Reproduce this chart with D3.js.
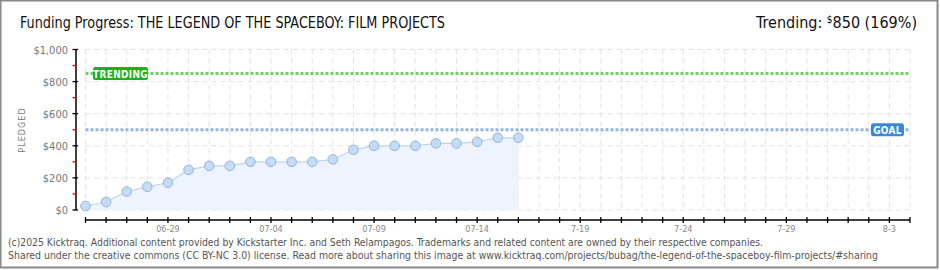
<!DOCTYPE html>
<html>
<head>
<meta charset="utf-8">
<script src="https://d3js.org/d3.v7.min.js"></script>
<style>
  body { margin: 0; background: #fff; }
  svg text { font-family: "DejaVu Sans Condensed", "DejaVu Sans", sans-serif; }
  .grid line { stroke: #e2e2e2; stroke-dasharray: 5,4; }
</style>
</head>
<body>
<svg id="chart" width="940" height="270"></svg>
<script>
// funding per day
var days = ["2025-06-25","2025-06-26","2025-06-27","2025-06-28","2025-06-29","2025-06-30",
            "2025-07-01","2025-07-02","2025-07-03","2025-07-04","2025-07-05","2025-07-06",
            "2025-07-07","2025-07-08","2025-07-09","2025-07-10","2025-07-11","2025-07-12",
            "2025-07-13","2025-07-14","2025-07-15","2025-07-16"];
var pledged = [25, 50, 115, 145, 170, 250, 275, 275, 300, 300, 300, 300,
               315, 375, 400, 400, 400, 415, 415, 425, 450, 450];
var goal = 500;
var trending = 850;
var trendingPct = 169;
var yTicks = [0, 200, 400, 600, 800, 1000];
var yMinor = [100, 300, 500, 700, 900];
var xStart = "2025-06-25", xEnd = "2025-08-04";

var parse = d3.timeParse("%Y-%m-%d");
var svg = d3.select("#chart");

var x = d3.scaleTime().domain([parse(xStart), parse(xEnd)]).range([85.5, 910]);
var y = d3.scaleLinear().domain([0, 1000]).range([210, 49.5]);

var allDays = d3.timeDay.range(parse(xStart), d3.timeDay.offset(parse(xEnd), 1));

// border
svg.append("rect").attr("x", 0.5).attr("y", 0.5).attr("width", 937).attr("height", 267)
  .attr("fill", "none").attr("stroke", "#888").attr("stroke-width", 2);

// title
svg.append("text").attr("x", 20).attr("y", 28).attr("font-size", 16).attr("fill", "#111")
  .attr("textLength", 425).attr("lengthAdjust", "spacingAndGlyphs")
  .text("Funding Progress: THE LEGEND OF THE SPACEBOY: FILM PROJECTS");

var tr = svg.append("text").attr("x", 917).attr("y", 28).attr("font-size", 16)
  .attr("fill", "#111").attr("text-anchor", "end");
tr.append("tspan").text("Trending:  ");
tr.append("tspan").attr("font-size", 10).attr("dy", -5).text("$");
tr.append("tspan").attr("dy", 5).text(trending + " (" + trendingPct + "%)");

// grid
var grid = svg.append("g").attr("class", "grid");
grid.selectAll(".v").data(allDays).enter().append("line")
  .attr("x1", d => x(d)).attr("x2", d => x(d)).attr("y1", y(1000)).attr("y2", y(0));
grid.selectAll(".h").data(yTicks).enter().append("line")
  .attr("x1", x(parse(xStart))).attr("x2", 910).attr("y1", d => y(d)).attr("y2", d => y(d));

// area + line
var pts = days.map((d, i) => ({ date: parse(d), v: pledged[i] }));
svg.append("path").datum(pts)
  .attr("fill", "#edf4fd")
  .attr("d", d3.area().x(d => x(d.date)).y0(y(0)).y1(d => y(d.v)));
svg.append("path").datum(pts)
  .attr("fill", "none").attr("stroke", "#b9d6f5").attr("stroke-width", 1.2)
  .attr("d", d3.line().x(d => x(d.date)).y(d => y(d.v)));

// trending and goal lines
function refLine(val, color, label, lx, lw, bg) {
  svg.append("line").attr("x1", x(parse(xStart))).attr("x2", 910)
    .attr("y1", y(val)).attr("y2", y(val))
    .attr("stroke", color).attr("stroke-width", 3).attr("stroke-dasharray", "3,2");
  svg.append("rect").attr("x", lx).attr("y", y(val) - 6.5).attr("width", lw).attr("height", 13)
    .attr("rx", 2.5).attr("fill", bg);
  svg.append("text").attr("x", lx + lw / 2).attr("y", y(val) + 4).attr("text-anchor", "middle")
    .attr("font-size", 10).attr("font-weight", "bold").attr("fill", "#fff")
    .attr("letter-spacing", 0.3).text(label);
}
refLine(trending, "#77cc6a", "TRENDING", 93, 55, "#16b316");
refLine(goal, "#94b4dc", "GOAL", 871, 33, "#3c89d9");

// points
svg.selectAll(".pt").data(pts).enter().append("circle")
  .attr("cx", d => x(d.date)).attr("cy", d => y(d.v)).attr("r", 4.8)
  .attr("fill", "#c4dcf6").attr("stroke", "#98b2d4").attr("stroke-width", 1);

// y axis
svg.append("line").attr("x1", 76).attr("x2", 76).attr("y1", y(1000)).attr("y2", y(0))
  .attr("stroke", "#000").attr("stroke-width", 1.5);
svg.selectAll(".yt").data(yTicks).enter().append("line")
  .attr("x1", 72.5).attr("x2", 78).attr("y1", d => y(d)).attr("y2", d => y(d))
  .attr("stroke", "#000").attr("stroke-width", 1.3);
svg.selectAll(".ym").data(yMinor).enter().append("line")
  .attr("x1", 72.5).attr("x2", 76).attr("y1", d => y(d)).attr("y2", d => y(d))
  .attr("stroke", "#e00").attr("stroke-width", 1.3);
svg.selectAll(".yl").data(yTicks).enter().append("text")
  .attr("x", 68).attr("y", d => y(d) + 4).attr("text-anchor", "end")
  .attr("font-size", 11).attr("fill", "#777")
  .text(d => "$" + d3.format(",")(d));
svg.append("text").attr("transform", "translate(25,130) rotate(-90)")
  .attr("text-anchor", "middle").attr("font-size", 9).attr("fill", "#777")
  .attr("letter-spacing", 1).text("PLEDGED");

// x axis
svg.append("line").attr("x1", 85.5).attr("x2", 910).attr("y1", 220).attr("y2", 220)
  .attr("stroke", "#000").attr("stroke-width", 1.5);
svg.selectAll(".xt").data(allDays).enter().append("line")
  .attr("x1", d => x(d)).attr("x2", d => x(d)).attr("y1", 217).attr("y2", 223)
  .attr("stroke", "#000").attr("stroke-width", 1.3);
var labelDays = allDays.filter((d, i) => i % 5 === 4);
var fmtA = d3.timeFormat("%m-%d");
svg.selectAll(".xl").data(labelDays).enter().append("text")
  .attr("x", d => x(d)).attr("y", 232).attr("text-anchor", "middle")
  .attr("font-size", 9).attr("fill", "#888")
  .text(d => d < parse("2025-07-15") ? fmtA(d) : (d.getMonth() + 1) + "-" + d.getDate());

// footer
svg.append("text").attr("x", 8).attr("y", 246).attr("font-size", 10).attr("fill", "#555")
  .attr("textLength", 755).attr("lengthAdjust", "spacingAndGlyphs")
  .text("(c)2025 Kicktraq. Additional content provided by Kickstarter Inc. and Seth Relampagos. Trademarks and related content are owned by their respective companies.");
svg.append("text").attr("x", 8).attr("y", 259).attr("font-size", 10).attr("fill", "#555")
  .attr("textLength", 870).attr("lengthAdjust", "spacingAndGlyphs")
  .text("Shared under the creative commons (CC BY-NC 3.0) license. Read more about sharing this image at www.kicktraq.com/projects/bubag/the-legend-of-the-spaceboy-film-projects/#sharing");
</script>
</body>
</html>
